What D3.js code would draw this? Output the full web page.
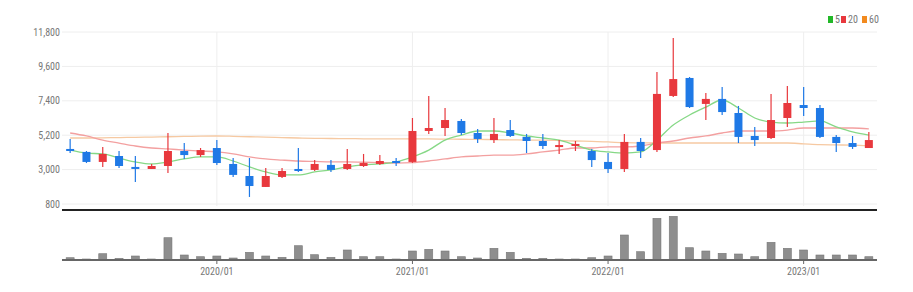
<!DOCTYPE html>
<html>
<head>
  <meta charset="utf-8">
  <title>Monthly candle chart</title>
  <script src="https://cdn.jsdelivr.net/npm/d3@7"></script>
  <style>
    body { margin: 0; background: #fff; }
    text { font-family: "Liberation Sans Narrow", "Roboto Condensed", "Liberation Sans", sans-serif; }
  </style>
</head>
<body>
  <div id="chart"></div>

  <script>
    // months, 2019/04 .. 2023/05
    const months = [
      "2019/04","2019/05","2019/06","2019/07","2019/08","2019/09","2019/10","2019/11","2019/12",
      "2020/01","2020/02","2020/03","2020/04","2020/05","2020/06","2020/07","2020/08","2020/09","2020/10","2020/11","2020/12",
      "2021/01","2021/02","2021/03","2021/04","2021/05","2021/06","2021/07","2021/08","2021/09","2021/10","2021/11","2021/12",
      "2022/01","2022/02","2022/03","2022/04","2022/05","2022/06","2022/07","2022/08","2022/09","2022/10","2022/11","2022/12",
      "2023/01","2023/02","2023/03","2023/04","2023/05"
    ]
    const openP  = [4320,4130,3490,3870,3170,3040,3230,4190,3930,4380,3360,2590,1890,2530,3040,2980,3300,3040,3230,3360,3550,
                    3490,5470,5660,6110,5340,4890,5530,5090,4830,4510,4510,4190,3490,3040,4770,4250,7710,8860,7200,7520,6620,5150,5020,6300,7130,6940,5090,4700,4380]
    const highP  = [4950,4190,4450,4190,3870,3360,5340,4700,4380,4890,3740,3740,3100,3100,4380,3610,3610,4320,4000,3930,3740,
                    6300,7710,6940,6240,5600,6300,6170,5280,5280,4890,4830,4320,4060,5280,5020,9240,11420,8920,7900,8280,7070,5730,7840,8350,8280,7130,5210,5150,5410]
    const lowP   = [4060,3420,3170,3100,2210,3040,2780,3680,3810,3300,2530,1250,1890,2460,2850,2910,2850,2980,3170,3300,3230,
                    3430,5280,5150,5210,4700,4700,5090,4060,4320,4000,4190,3170,2780,2850,3740,4130,7640,6940,6170,6490,4700,4510,4960,5730,6430,5020,4130,4320,4380]
    const closeP = [4190,3490,4000,3230,3040,3230,4190,3930,4250,3420,2660,1950,2590,2910,2910,3360,2980,3360,3420,3550,3420,
                    5470,5660,6170,5340,4960,5280,5150,4830,4510,4570,4640,3610,3040,4770,4190,7840,8790,7000,7520,6680,5090,4890,6170,7260,6940,5090,4700,4450,4890]
    const volume = [2.3,1,6.3,1.7,4,1,22.3,5,3.3,4,2,7.7,4,2.7,14.3,5.3,2.7,10,3.3,3.3,1,
                    9,10.7,9,3.3,2,11.7,7.7,1.7,1.7,1,1,2.3,4,25,8.3,41.7,43.7,12.3,9,6.7,6,3.3,17.7,11.7,10,5,5,5,3.3]

    // moving averages
    const ma5  = [4250,4060,4000,3740,3490,3360,3490,3680,3810,3810,3550,3170,2850,2660,2660,2850,2980,3170,3300,3360,3490,
                  3810,4250,4890,5210,5470,5470,5340,5150,5020,4890,4570,4250,4130,4060,4130,4890,5850,6490,7000,7450,6940,6300,6040,5980,6040,6110,5730,5410,5210]
    const ma20 = [5340,5150,4890,4700,4510,4380,4320,4250,4190,4130,4000,3810,3680,3610,3550,3520,3490,3490,3470,3450,3420,
                  3450,3550,3680,3810,3870,3930,3930,4000,4130,4250,4380,4380,4450,4450,4510,4700,4830,5020,5150,5340,5470,5470,5470,5530,5660,5660,5660,5660,5600]
    const ma60 = [5020,5020,5030,5050,5060,5080,5100,5120,5140,5150,5130,5100,5080,5050,5020,5000,4990,4980,4970,4960,4960,
                  4960,4960,4950,4940,4930,4920,4900,4890,4880,4860,4830,4800,4770,4720,4710,4700,4700,4700,4700,4700,4700,4700,4700,4700,4650,4600,4580,4560,4520]

    const priceTicks = [800,3000,5200,7400,9600,11800]
    const yearTicks = ["2020/01","2021/01","2022/01","2023/01"]
    const legendItems = ["5","20","60"]
    const legendColors = ["#22b828","#e8383d","#f28a1e"]
    const maColors = ["#86d886","#f3a0a0","#f6c9a2"]

    const width = 913
    const height = 292

    const svg = d3.select("#chart")
      .append("svg")
      .attr("width", width)
      .attr("height", height)

    const x = d3.scaleBand()
      .domain(months)
      .range([62, 877])

    const y = d3.scaleLinear()
      .domain([800, 11800])
      .range([204, 32])

    const yVol = d3.scaleLinear()
      .domain([0, 47])
      .range([260, 213])

    const cx = d => x(d) + x.bandwidth() / 2

    // grid
    const grid = svg.append("g")
    grid.selectAll("line.h")
      .data(priceTicks)
      .enter()
      .append("line")
      .attr("x1", 62).attr("x2", 877)
      .attr("y1", d => y(d)).attr("y2", d => y(d))
      .style("stroke", "#eeeeee")
    grid.selectAll("line.v")
      .data(yearTicks)
      .enter()
      .append("line")
      .attr("x1", d => cx(d)).attr("x2", d => cx(d))
      .attr("y1", 32).attr("y2", 206)
      .style("stroke", "#eeeeee")

    // price axis labels
    svg.append("g")
      .selectAll("text")
      .data(priceTicks)
      .enter()
      .append("text")
      .attr("x", 60)
      .attr("y", d => y(d) + 3.5)
      .attr("text-anchor", "end")
      .attr("font-size", 10)
      .attr("fill", "#777")
      .text(d => d3.format(",")(d))

    // moving averages
    const maSeries = [ma5, ma20, ma60]
    const line = d3.line()
      .x((d, i) => cx(months[i]))
      .y(d => y(d))
      .curve(d3.curveMonotoneX)
    svg.append("g")
      .selectAll("path")
      .data(maSeries.slice().reverse())
      .enter()
      .append("path")
      .attr("d", d => line(d))
      .attr("fill", "none")
      .attr("stroke", (d, i) => maColors[2 - i])
      .attr("stroke-width", 1.3)

    // candles
    const candles = months.map((m, i) => ({
      m: m, o: openP[i], h: highP[i], l: lowP[i], c: closeP[i], v: volume[i]
    }))
    const upColor = "#e8383d"
    const downColor = "#1f79e6"
    const col = d => d.c >= d.o ? upColor : downColor
    const bodyW = 8

    const cg = svg.append("g")
    cg.selectAll("line")
      .data(candles)
      .enter()
      .append("line")
      .attr("x1", d => cx(d.m)).attr("x2", d => cx(d.m))
      .attr("y1", d => y(d.h)).attr("y2", d => y(d.l))
      .style("stroke", col)
      .style("stroke-width", 1.2)
    cg.selectAll("rect")
      .data(candles)
      .enter()
      .append("rect")
      .attr("x", d => cx(d.m) - bodyW / 2)
      .attr("width", bodyW)
      .attr("y", d => y(Math.max(d.o, d.c)))
      .attr("height", d => Math.max(2, Math.abs(y(d.o) - y(d.c))))
      .attr("fill", col)

    // panel separator
    svg.append("line")
      .attr("x1", 62).attr("x2", 877)
      .attr("y1", 210).attr("y2", 210)
      .style("stroke", "#222")
      .style("stroke-width", 2)

    // volume bars
    svg.append("g")
      .selectAll("rect")
      .data(candles)
      .enter()
      .append("rect")
      .attr("x", d => cx(d.m) - bodyW / 2)
      .attr("width", bodyW)
      .attr("y", d => yVol(d.v))
      .attr("height", d => yVol(0) - yVol(d.v))
      .attr("fill", "#8e8e8e")
      .attr("stroke", "#777")
      .attr("stroke-width", 0.6)

    svg.append("line")
      .attr("x1", 62).attr("x2", 877)
      .attr("y1", 260).attr("y2", 260)
      .style("stroke", "#666")
      .style("stroke-width", 2)

    const xAxis = svg.append("g")
    xAxis.selectAll("line")
      .data(yearTicks)
      .enter()
      .append("line")
      .attr("x1", d => cx(d)).attr("x2", d => cx(d))
      .attr("y1", 260).attr("y2", 264)
      .style("stroke", "#666")
    xAxis.selectAll("text")
      .data(yearTicks)
      .enter()
      .append("text")
      .attr("x", d => cx(d))
      .attr("y", 275)
      .attr("text-anchor", "middle")
      .attr("font-size", 10)
      .attr("fill", "#777")
      .text(d => d)

    // legend
    const legendX = [828, 841, 862]
    const legend = svg.append("g")
    legendItems.forEach((t, i) => {
      legend.append("rect")
        .attr("x", legendX[i]).attr("y", 16)
        .attr("width", 5).attr("height", 7)
        .attr("fill", legendColors[i])
      legend.append("text")
        .attr("x", legendX[i] + 7).attr("y", 23)
        .attr("font-size", 10)
        .attr("fill", "#777")
        .text(t)
    })
  </script>
</body>
</html>
